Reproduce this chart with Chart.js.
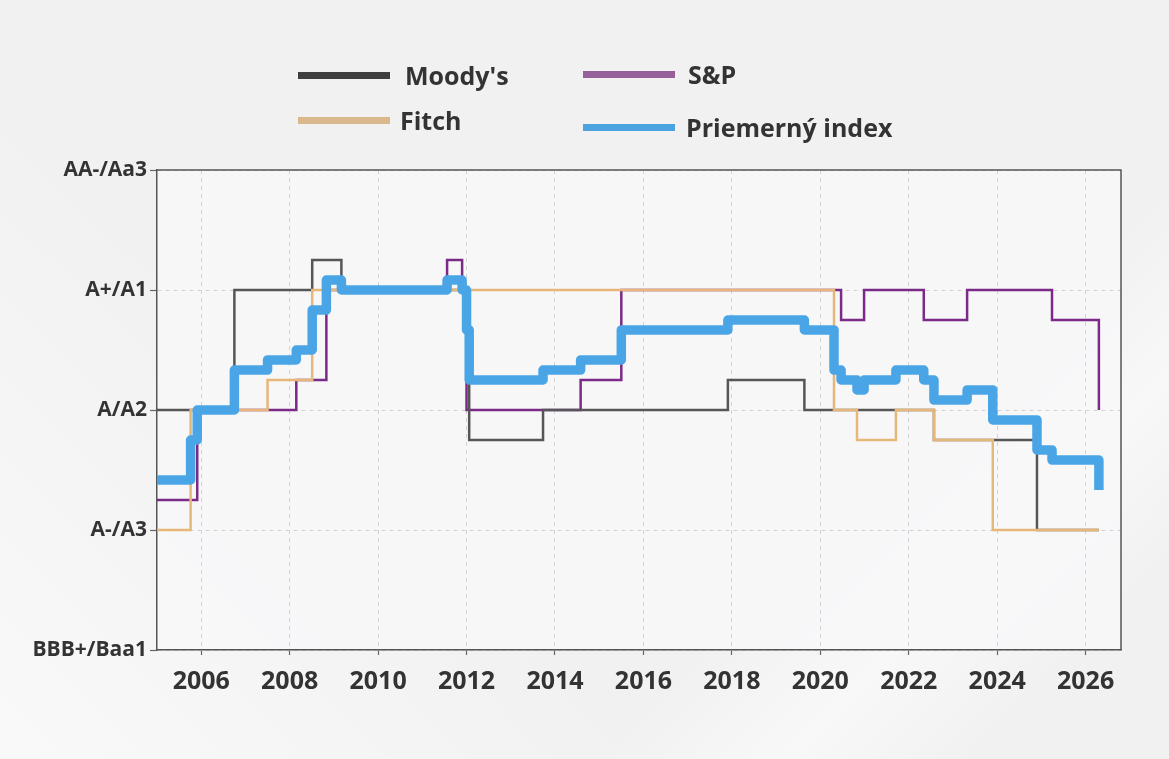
<!DOCTYPE html>
<html>
<head>
<meta charset="utf-8">
<script src="https://cdn.jsdelivr.net/npm/chart.js@4"></script>
<style>
  html, body { margin:0; padding:0; width:1169px; height:759px; overflow:hidden; background:#f1f1f2; font-family:"Open Sans", sans-serif; }
  #wrap { position:relative; width:1169px; height:759px;
    background:
      linear-gradient(135deg, rgba(255,255,255,0) 0%, rgba(255,255,255,0) 70%, rgba(255,255,255,0.5) 80%, rgba(255,255,255,0) 90%),
      linear-gradient(45deg, rgba(255,255,255,0.6) 0%, rgba(255,255,255,0) 35%),
      #f1f1f2; }
  canvas { position:absolute; left:0; top:0; }
  .lg { position:absolute; display:flex; align-items:center; transform:translateY(-50%); white-space:nowrap; }
  .lg .sw { display:inline-block; width:92px; height:7px; }
  .lg .tx { font-family:"Open Sans", sans-serif; font-weight:700; font-size:25px; color:#333; line-height:30px; }
</style>
</head>
<body>
<div id="wrap">
  <canvas id="c" width="1169" height="759"></canvas>
</div>
<script>
// ---- Data (rating scale: BBB+/Baa1 = 0, A-/A3 = 4, A/A2 = 8, A+/A1 = 12, AA-/Aa3 = 16; outlook = ±1) ----
const seriesLabels = ["Moody's", "S&P", "Fitch", "Priemerný index"];

const moodysDates = [2005.0, 2006.75, 2008.51, 2009.17, 2012.06, 2013.73, 2017.91, 2019.64, 2022.57, 2024.9, 2026.3];
const moodysVals  = [8,      12,      13,      12,      7,       8,       9,       8,       7,       4,      4];

const spDates = [2005.0, 2005.91, 2008.15, 2008.83, 2011.56, 2011.90, 2012.0, 2014.58, 2015.5, 2020.47, 2020.99, 2022.34, 2023.32, 2025.24, 2026.3];
const spVals  = [5,      8,       9,       12,      13,      12,      8,      9,       12,     11,      12,      11,      12,      11,      8];

const fitchDates = [2005.0, 2005.76, 2007.5, 2008.51, 2020.31, 2020.83, 2021.71, 2022.57, 2023.9, 2026.3];
const fitchVals  = [4,      8,       9,      12,      8,       7,       8,       7,       4,      4];

const indexDates = [2005.0, 2005.76, 2005.91, 2006.75, 2007.5, 2008.15, 2008.51, 2008.83, 2009.17, 2011.56, 2011.90, 2012.0, 2012.06, 2013.73, 2014.58, 2015.5, 2017.91, 2019.64, 2020.31, 2020.47, 2020.83, 2020.99, 2021.71, 2022.34, 2022.57, 2023.32, 2023.9, 2024.9, 2025.24, 2026.3];
const indexVals  = [5.67,   7,       8,       9.33,    9.67,   10,      11.33,   12.33,   12,      12.33,   12,      10.67,  9,       9.33,    9.67,    10.67,  11,      10.67,   9.33,    9,       8.67,    9,       9.33,    9,       8.33,    8.67,    7.67,   6.67,   6.33,    5.33];

const yTickValues = [0, 4, 8, 12, 16];
const yTickLabels = ["BBB+/Baa1", "A-/A3", "A/A2", "A+/A1", "AA-/Aa3"];
const xTickYears  = [2006, 2008, 2010, 2012, 2014, 2016, 2018, 2020, 2022, 2024, 2026];

// ---- Styles ----
const lineColors   = ['#565656', '#7b2a87', '#e7b679', '#4aa5e6'];
const legendColors = ['#3f3f3f', '#96619b', '#d9b98b', '#4ba4e0'];
const lineWidths   = [2.5, 2.5, 2.5, 9.5];
const drawOrder    = [2, 3, 1, 0];

const toPts = (xs, ys) => xs.map((x, i) => ({ x: x, y: ys[i] }));
const allData = [
  toPts(moodysDates, moodysVals),
  toPts(spDates, spVals),
  toPts(fitchDates, fitchVals),
  toPts(indexDates, indexVals)
];

const datasets = seriesLabels.map((lab, i) => ({
  label: lab,
  data: allData[i],
  borderColor: lineColors[i],
  backgroundColor: lineColors[i],
  borderWidth: lineWidths[i],
  stepped: 'before',
  pointRadius: 0,
  fill: false,
  order: drawOrder[i],
  borderJoinStyle: i === 3 ? 'round' : 'miter',
  borderCapStyle: 'butt'
}));

const frame = {
  id: 'frame',
  beforeDraw(chart) {
    const { ctx, chartArea: a } = chart;
    ctx.save();
    ctx.fillStyle = 'rgba(248,248,249,0.75)';
    ctx.fillRect(a.left, a.top, a.right - a.left, a.bottom - a.top);
    ctx.restore();
  },
  afterDraw(chart) {
    const { ctx, chartArea: a } = chart;
    ctx.save();
    ctx.strokeStyle = '#555';
    ctx.lineWidth = 1.5;
    ctx.beginPath();
    ctx.moveTo(a.left, a.top);
    ctx.lineTo(a.right, a.top);
    ctx.lineTo(a.right, a.bottom);
    ctx.stroke();
    ctx.restore();
  }
};

new Chart(document.getElementById('c'), {
  type: 'line',
  data: { datasets: datasets },
  plugins: [frame],
  options: {
    responsive: false,
    animation: false,
    events: [],
    layout: { padding: { top: 170, right: 48, bottom: 0, left: 0 } },
    plugins: { legend: { display: false }, tooltip: { enabled: false } },
    scales: {
      x: {
        type: 'linear',
        min: 2005,
        max: 2026.8,
        afterBuildTicks: s => { s.ticks = xTickYears.map(v => ({ value: v })); },
        afterFit: s => { s.height = 109; },
        ticks: {
          callback: v => String(v),
          autoSkip: false, maxRotation: 0,
          color: '#333',
          padding: 12,
          font: { family: 'Open Sans', size: 25, weight: 'bold' }
        },
        grid: { color: '#d3d3d3', lineWidth: 1, tickLength: 5, tickColor: '#666', tickWidth: 1.2 },
        border: { color: '#555', width: 1.5, dash: [4, 4] }
      },
      y: {
        min: 0,
        max: 16,
        afterBuildTicks: s => { s.ticks = yTickValues.map(v => ({ value: v })); },
        afterFit: s => { s.width = 157; },
        ticks: {
          callback: v => yTickLabels[yTickValues.indexOf(v)],
          color: '#333',
          padding: 3,
          font: { family: 'Open Sans', size: 21, weight: 'bold' }
        },
        grid: { color: '#d3d3d3', lineWidth: 1, tickLength: 7, tickColor: '#666', tickWidth: 1.2 },
        border: { color: '#555', width: 1.5, dash: [4, 4] }
      }
    }
  }
});

// ---- Legend (HTML, two columns) ----
const legendPos = [
  { left: 298, top: 75, gap: 15 },
  { left: 583, top: 74, gap: 13 },
  { left: 298, top: 120, gap: 10 },
  { left: 583, top: 127, gap: 11 }
];
const wrap = document.getElementById('wrap');
seriesLabels.forEach((lab, i) => {
  const d = document.createElement('div');
  d.className = 'lg';
  d.style.left = legendPos[i].left + 'px';
  d.style.top = legendPos[i].top + 'px';
  const sw = document.createElement('span');
  sw.className = 'sw';
  sw.style.background = legendColors[i];
  const tx = document.createElement('span');
  tx.className = 'tx';
  tx.style.marginLeft = legendPos[i].gap + 'px';
  tx.textContent = lab;
  d.appendChild(sw); d.appendChild(tx);
  wrap.appendChild(d);
});
</script>
</body>
</html>
